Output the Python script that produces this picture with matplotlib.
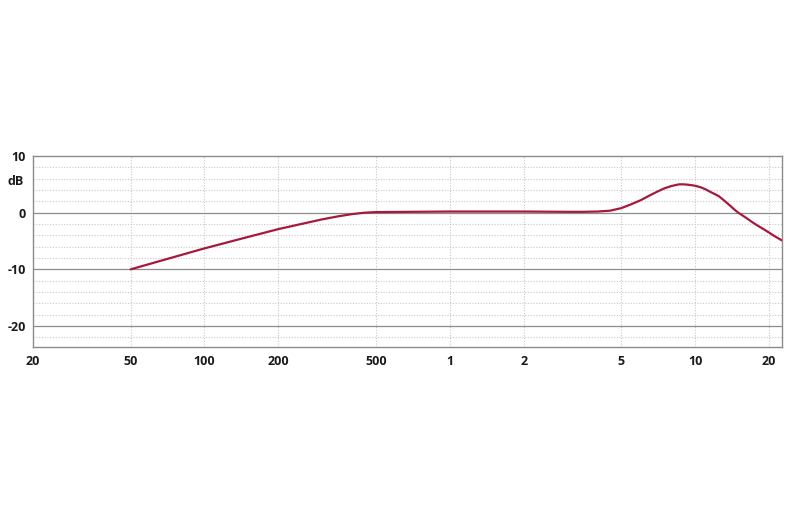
import matplotlib
matplotlib.use("Agg")
import matplotlib.pyplot as plt
import numpy as np

freq_hz = [50, 70, 100, 150, 200, 300, 350, 400, 450, 500, 700, 1000, 2000, 3000, 3500, 4000, 4500, 5000, 5500,
           6000, 6500, 7000, 7500, 8000, 8600, 9000, 9500, 10000, 10500, 11000, 11500, 12000, 12500, 13000,
           13500, 14000, 14500, 15000, 16000, 17000, 18000, 19000, 20000, 21000, 22600]
level_db = [-10.0, -8.2, -6.3, -4.3, -2.9, -1.2, -0.65, -0.25, 0.0, 0.1, 0.15, 0.2, 0.2, 0.15, 0.15, 0.2, 0.35, 0.8, 1.5,
            2.2, 3.0, 3.7, 4.3, 4.7, 5.0, 5.0, 4.9, 4.75, 4.5, 4.15, 3.7, 3.3, 2.9, 2.3,
            1.7, 1.1, 0.5, 0.0, -0.8, -1.6, -2.3, -2.9, -3.5, -4.1, -4.9]

xticks = [20, 50, 100, 200, 500, 1000, 2000, 5000, 10000, 20000]
xticklabels = ["20", "50", "100", "200", "500", "1", "2", "5", "10", "20"]
yticks = [-20, -10, 0, 10]
yminor = [-22, -18, -16, -14, -12, -8, -6, -4, -2, 2, 4, 6, 8]

plt.rcParams['font.family'] = ['Open Sans', 'DejaVu Sans']

fig = plt.figure(figsize=(8, 5.32), dpi=100)
ax = fig.add_axes([33/800, 1-347/532, (782-33)/800, (347-156)/532])
ax.set_xscale('log')
ax.set_xlim(20, 22600)
ax.set_ylim(-23.7, 10)

for y in yminor:
    ax.axhline(y, color='#c8c8c8', lw=0.8, ls=(0, (1, 1.5)), zorder=1)
for x in xticks[1:]:
    ax.axvline(x, color='#c8c8c8', lw=0.8, ls=(0, (1, 1.5)), zorder=1)
for y in [-20, -10, 0]:
    ax.axhline(y, color='#8c8c8c', lw=0.9, zorder=2)

ax.plot(freq_hz, level_db, color='#a51a3c', lw=1.6, zorder=3, solid_capstyle='round', solid_joinstyle='round')

for s in ax.spines.values():
    s.set_color('#8c8c8c')
    s.set_linewidth(1.0)

ax.set_xticks(xticks)
ax.set_xticklabels(xticklabels)
ax.xaxis.set_minor_locator(matplotlib.ticker.NullLocator())
ax.set_yticks(yticks)
ax.set_yticklabels([str(v) for v in yticks])
ax.tick_params(length=0, labelsize=9, colors='#1a1a1a')
for lab in ax.get_xticklabels() + ax.get_yticklabels():
    lab.set_fontweight('bold')
ax.tick_params(axis='x', pad=6)
ax.tick_params(axis='y', pad=5)

ax.text(-0.013, 5.5, "dB", transform=ax.get_yaxis_transform(), ha='right', va='center',
        fontsize=9, fontweight='bold', color='#1a1a1a')

fig.savefig("out.png", dpi=100, facecolor='white')
